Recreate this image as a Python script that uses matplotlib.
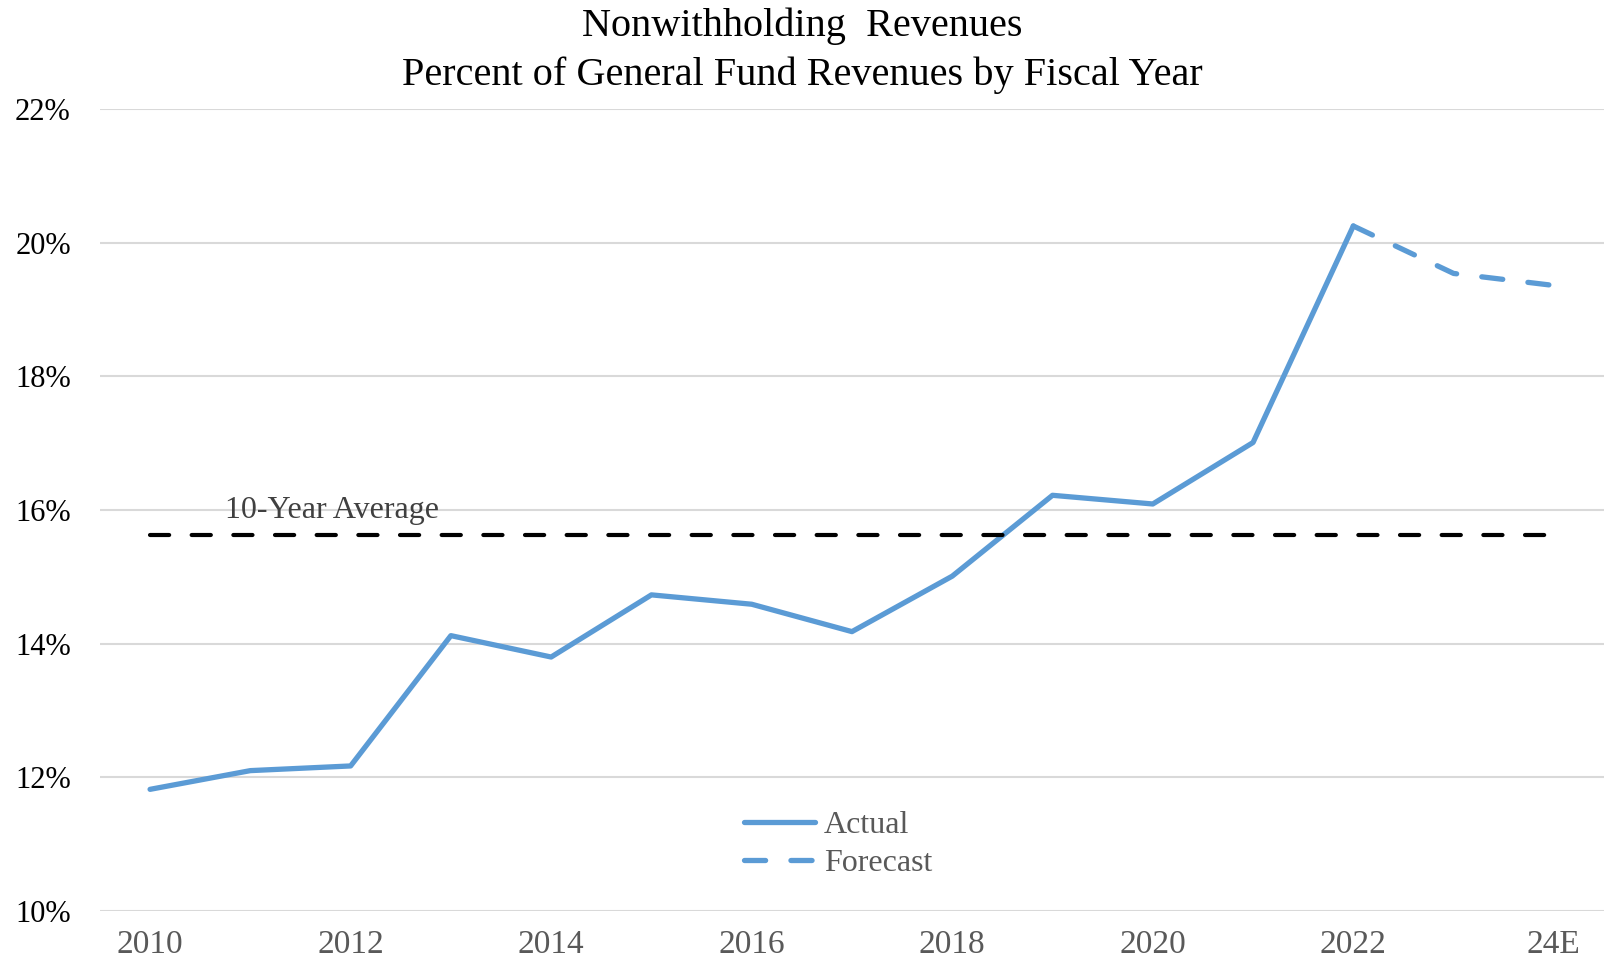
import numpy as np
import matplotlib.pyplot as plt

plt.rcParams['font.family'] = ['Liberation Serif', 'DejaVu Serif']

years = [2010, 2011, 2012, 2013, 2014, 2015, 2016, 2017, 2018, 2019, 2020, 2021, 2022]
actual = [11.82, 12.10, 12.17, 14.12, 13.80, 14.73, 14.59, 14.18, 15.01, 16.22, 16.09, 17.01, 20.25]
forecast_years = [2022, 2023, 2024]
forecast = [20.25, 19.54, 19.36]
avg_10yr = 15.63

tick_years = [2010, 2012, 2014, 2016, 2018, 2020, 2022, 2024]
tick_labels = ['2010', '2012', '2014', '2016', '2018', '2020', '2022', '24E']
y_ticks = [10, 12, 14, 16, 18, 20, 22]

blue = '#5B9BD5'

fig = plt.figure(figsize=(16.04, 9.65), dpi=100)
ax = fig.add_axes([0.0623, 0.056, 0.9377, 0.831])

ax.plot(years, actual, color=blue, lw=3.8, solid_capstyle='round',
        solid_joinstyle='round', label='Actual')
ax.plot(forecast_years, forecast, color=blue, lw=3.8, dashes=(4.0, 4.8),
        dash_capstyle='round', dash_joinstyle='round', label='Forecast')
ax.plot([years[0], forecast_years[-1]], [avg_10yr, avg_10yr], color='black',
        lw=3.0, dashes=(4.6, 5.4), dash_capstyle='round')
ax.text(2010.75, 16.0, '10-Year Average', fontsize=23, color='#404040',
        va='center', ha='left')

ax.set_xlim(2009.5, 2024.5)
ax.set_ylim(10, 22)
ax.set_yticks(y_ticks)
ax.set_yticklabels([f'{v}%' for v in y_ticks])
ax.set_xticks(tick_years)
ax.set_xticklabels(tick_labels)
ax.grid(axis='y', color='#D9D9D9', lw=1.5)
ax.set_axisbelow(True)
for s in ax.spines.values():
    s.set_visible(False)
ax.tick_params(axis='both', length=0)
ax.tick_params(axis='y', labelsize=22, pad=21, labelcolor='black')
ax.tick_params(axis='x', labelsize=24, pad=13, labelcolor='#595959')

leg = ax.legend(loc='center', bbox_to_anchor=(0.491, 0.083), frameon=False,
                fontsize=23, handlelength=2.2, handletextpad=0.3,
                labelspacing=0.25, labelcolor='#595959')

fig.text(0.5, 0.973, 'Nonwithholding  Revenues', ha='center', va='center',
         fontsize=29)
fig.text(0.5, 0.922, 'Percent of General Fund Revenues by Fiscal Year',
         ha='center', va='center', fontsize=29)

fig.savefig('out.png', dpi=100)
